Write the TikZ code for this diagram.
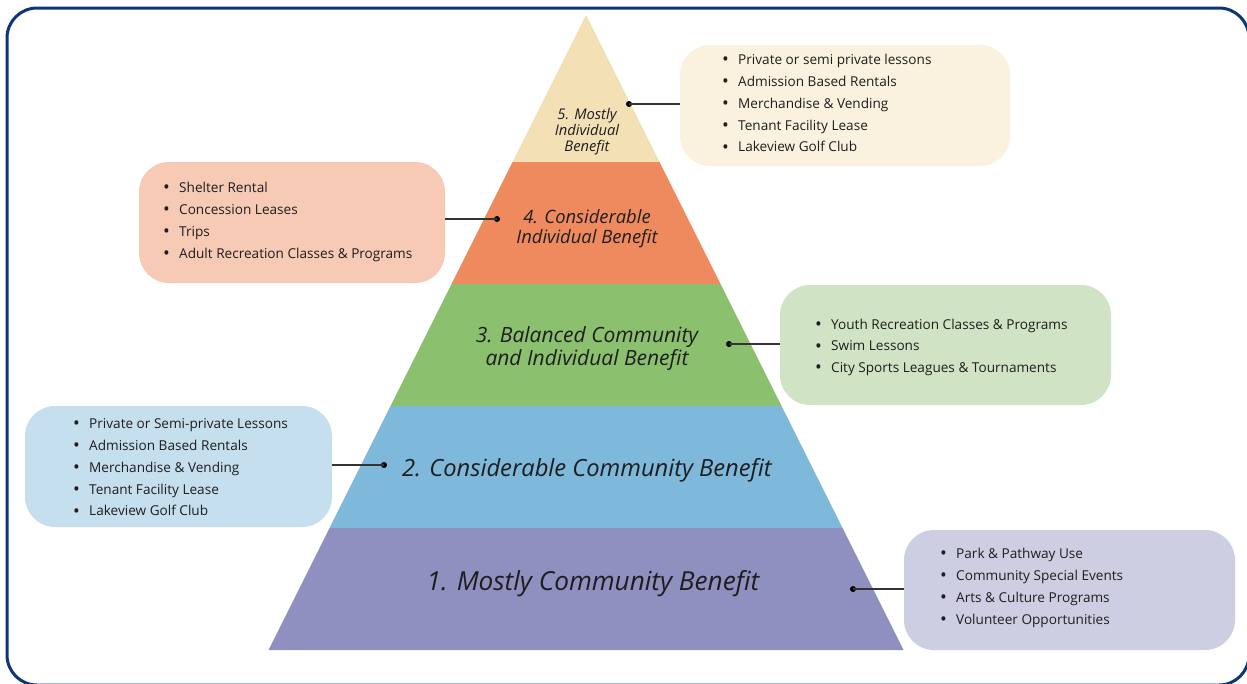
\documentclass[tikz,border=0pt]{standalone}
\usepackage{fontspec}
\setmainfont{Open Sans}
\definecolor{framec}{HTML}{0D3677}
\definecolor{lay5}{HTML}{F3E1B5}
\definecolor{lay4}{HTML}{EF8A5E}
\definecolor{lay3}{HTML}{8BC06E}
\definecolor{lay2}{HTML}{7EB8DA}
\definecolor{lay1}{HTML}{8F8FC0}
\definecolor{box5c}{HTML}{FAF2DE}
\definecolor{box4c}{HTML}{F7CAB5}
\definecolor{box3c}{HTML}{D0E4C5}
\definecolor{box2c}{HTML}{C6DFEE}
\definecolor{box1c}{HTML}{CECEE3}
\definecolor{txt}{HTML}{1E1E1E}
\definecolor{linec}{HTML}{333333}
\newcommand{\itm}[1]{\strut\makebox[16pt][l]{\raisebox{-1.2pt}{\fontsize{18}{18}\selectfont\textbullet}}#1}
\begin{document}
\begin{tikzpicture}[x=1pt,y=-1pt,
  infobox/.style={rounded corners=30pt, draw=none, minimum width=#1, minimum height=121pt, inner sep=0pt},
  listtext/.style={anchor=west, align=left, inner sep=0pt, text=txt, font=\fontsize{13.6}{21.8}\selectfont},
  lvl/.style={align=center, inner sep=0pt, text=txt},
  dotn/.style={circle, fill=black, inner sep=0pt, minimum size=6pt},
  conn/.style={draw=linec, line width=1.5pt}]
\useasboundingbox (0,0) rectangle (1247,683);
\fill[white] (0,0) rectangle (1247,683);
\draw[framec, line width=3pt, rounded corners=30pt] (7,8) rectangle (1249,685);
% pyramid layers
\fill[lay5] (586,15) -- (659.5,162) -- (512.5,162) -- cycle;
\fill[lay4] (512.5,162) -- (659.5,162) -- (720.5,284) -- (451.5,284) -- cycle;
\fill[lay3] (451.5,284) -- (720.5,284) -- (781.5,406) -- (390.5,406) -- cycle;
\fill[lay2] (390.5,406) -- (781.5,406) -- (842.5,528) -- (329.5,528) -- cycle;
\fill[lay1] (329.5,528) -- (842.5,528) -- (903.5,650) -- (268.5,650) -- cycle;
% level labels
\node[lvl, font=\fontsize{14.7}{16}\selectfont\itshape] (l5) at (587,132) {5. Mostly\\Individual\\Benefit};
\node[lvl, font=\fontsize{18.4}{20.5}\selectfont\itshape] (l4) at (587,228.5) {4. Considerable\\Individual Benefit};
\node[lvl, font=\fontsize{21}{22.5}\selectfont\itshape] (l3) at (587,348.5) {3. Balanced Community\\and Individual Benefit};
\node[lvl, font=\fontsize{23.7}{25}\selectfont\itshape] (l2) at (587,470.5) {2. Considerable Community Benefit};
\node[lvl, font=\fontsize{26.2}{28}\selectfont\itshape] (l1) at (593,584) {1. Mostly Community Benefit};
% boxes
\node[infobox=330pt, fill=box5c] (b5) at (845,105.5) {};
\node[infobox=306pt, fill=box4c] (b4) at (292,222.5) {};
\node[infobox=331pt, fill=box3c, minimum height=120pt] (b3) at (945.5,345) {};
\node[infobox=307pt, fill=box2c] (b2) at (178.5,466.5) {};
\node[infobox=331pt, fill=box1c, minimum height=120pt] (b1) at (1069.5,590) {};
% lists
\node[listtext] (t5) at (722,104) {\itm{Private or semi private lessons}\\\itm{Admission Based Rentals}\\\itm{Merchandise \& Vending}\\\itm{Tenant Facility Lease}\\\itm{Lakeview Golf Club}};
\node[listtext] (t4) at (163,221) {\itm{Shelter Rental}\\\itm{Concession Leases}\\\itm{Trips}\\\itm{Adult Recreation Classes \& Programs}};
\node[listtext] (t3) at (815,346.5) {\itm{Youth Recreation Classes \& Programs}\\\itm{Swim Lessons}\\\itm{City Sports Leagues \& Tournaments}};
\node[listtext] (t2) at (73,468) {\itm{Private or Semi-private Lessons}\\\itm{Admission Based Rentals}\\\itm{Merchandise \& Vending}\\\itm{Tenant Facility Lease}\\\itm{Lakeview Golf Club}};
\node[listtext] (t1) at (940,587) {\itm{Park \& Pathway Use}\\\itm{Community Special Events}\\\itm{Arts \& Culture Programs}\\\itm{Volunteer Opportunities}};
% connectors
\node[dotn] (d5) at (629,104) {};
\node[dotn] (d4) at (497,219) {};
\node[dotn] (d3) at (729,344) {};
\node[dotn] (d2) at (384,465) {};
\node[dotn] (d1) at (853,589) {};
\draw[conn] (d5.center) -- (d5.center -| b5.west);
\draw[conn] (d4.center) -- (d4.center -| b4.east);
\draw[conn] (d3.center) -- (d3.center -| b3.west);
\draw[conn] (d2.center) -- (d2.center -| b2.east);
\draw[conn] (d1.center) -- (d1.center -| b1.west);
\end{tikzpicture}
\end{document}
